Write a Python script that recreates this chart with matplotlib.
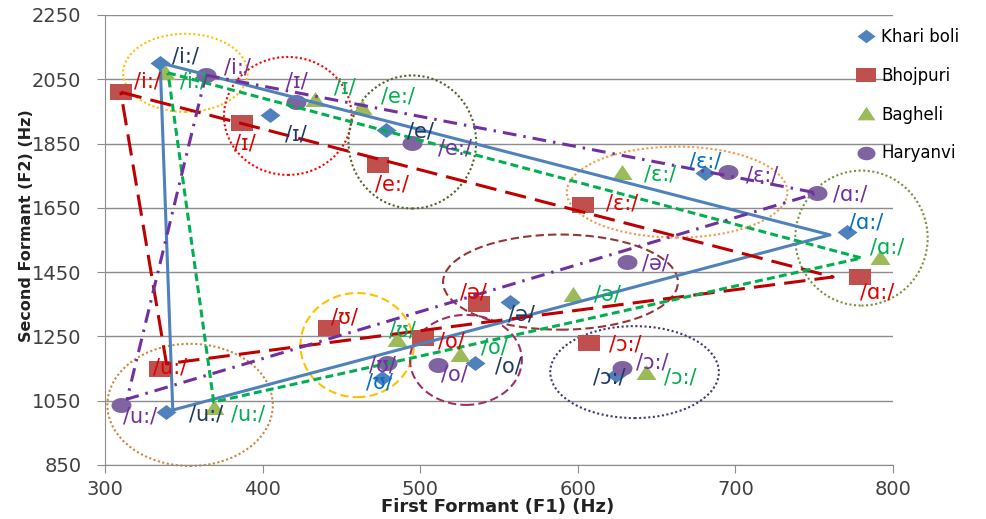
import numpy as np
import matplotlib
matplotlib.use("Agg")
import matplotlib.pyplot as plt
from matplotlib.patches import Ellipse

# ---- data (F1, F2 in Hz) ----
series_names = ["Khari boli", "Bhojpuri", "Bagheli", "Haryanvi"]

kb_f1 = [335, 405, 478, 681, 771, 557, 476, 535, 624, 339]
kb_f2 = [2101, 1939, 1892, 1758, 1575, 1357, 1121, 1167, 1130, 1015]
bh_f1 = [310, 387, 473, 603, 779, 537, 442, 502, 607, 335]
bh_f2 = [2010, 1914, 1783, 1659, 1435, 1351, 1276, 1245, 1230, 1149]
bg_f1 = [338, 433, 463, 628, 792, 597, 485, 525, 643, 369]
bg_f2 = [2070, 1986, 1961, 1758, 1494, 1379, 1239, 1192, 1136, 1027]
hr_f1 = [364, 421, 495, 695, 752, 631, 479, 511, 628, 310]
hr_f2 = [2063, 1979, 1852, 1762, 1696, 1482, 1167, 1161, 1152, 1037]

# vowel triangles (corner vowels)
kb_tri_f1 = [335, 760, 343]
kb_tri_f2 = [2101, 1566, 1021]
bh_tri_f1 = [310, 762, 339]
bh_tri_f2 = [2010, 1435, 1165]
bg_tri_f1 = [340, 780, 369]
bg_tri_f2 = [2070, 1494, 1046]
hr_tri_f1 = [364, 752, 314]
hr_tri_f2 = [2063, 1696, 1055]

kb_labels = ["/i:/", "/ɪ/", "/e/", "/ɛ:/", "/ɑ:/", "/ə/", "/ʊ/", "/o/", "/ɔ:/", "/u:/"]
bh_labels = ["/i:/", "/ɪ/", "/e:/", "/ɛ:/", "/ɑ:/", "/ə/", "/ʊ/", "/o/", "/ɔ:/", "/u:/"]
bg_labels = bh_labels
hr_labels = bh_labels

# where the vowel labels sit (data coords)
kb_lab_x = [351, 421, 500, 681, 783, 564, 474, 556, 620, 364]
kb_lab_y = [2122, 1877, 1886, 1793, 1603, 1317, 1108, 1158, 1121, 1006]
bh_lab_x = [327, 389, 482, 628, 790, 534, 452, 520, 630, 341]
bh_lab_y = [2042, 1849, 1724, 1665, 1388, 1388, 1310, 1233, 1226, 1152]
bg_lab_x = [356, 452, 486, 652, 796, 619, 489, 547, 665, 391]
bg_lab_y = [2042, 2023, 1995, 1755, 1528, 1382, 1270, 1217, 1121, 1006]
hr_lab_x = [384, 422, 522, 717, 773, 649, 476, 522, 647, 322]
hr_lab_y = [2088, 2042, 1836, 1752, 1690, 1478, 1161, 1130, 1170, 1002]

# circled vowel groups: centre, width, height (data units)
grp_x = [351, 416, 495, 663, 780, 589, 460, 529, 636, 354]
grp_y = [2070, 1936, 1855, 1699, 1556, 1419, 1223, 1177, 1139, 1037]
grp_w = [79, 81, 81, 140, 84, 149, 72, 71, 107, 105]
grp_h = [243, 367, 414, 283, 420, 296, 324, 280, 286, 380]
grp_col = ["#FFC000", "#FF0000", "#4F6228", "#F79646", "#77933C",
           "#953735", "#FFC000", "#A0306A", "#403878", "#C8873A"]
grp_ls = [(0, (1, 1.2)), (0, (1, 1.2)), (0, (1, 1.2)), (0, (1, 1.2)), (0, (1, 1.2)),
          (0, (4, 2)), (0, (4, 2)), (0, (4, 2)), (0, (1, 1.2)), (0, (1, 1.2))]

plt.rcParams['font.family'] = ['DejaVu Sans']

fig = plt.figure(figsize=(9.87, 5.19), dpi=100)
ax = fig.add_axes([105/987, 1-465/519, 788/987, 450/519])


def stretched(kind):
    if kind == "D":
        return [(-1, 0), (0, 0.75), (1, 0), (0, -0.75)]
    if kind == "s":
        return [(-1, -0.727), (1, -0.727), (1, 0.727), (-1, 0.727)]
    if kind == "^":
        return [(-1, -0.65), (1, -0.65), (0, 0.85)]
    t = np.linspace(0, 2*np.pi, 41)
    return list(zip(np.cos(t), 0.75*np.sin(t)))


mk_col = ["#4F81BD", "#C0504D", "#9BBB59", "#8064A2"]
mk_kind = ["D", "s", "^", "o"]
mk_size = [14.4, 15.8, 14.4, 14.4]
f1s = [kb_f1, bh_f1, bg_f1, hr_f1]
f2s = [kb_f2, bh_f2, bg_f2, hr_f2]
handles = []
for i in range(4):
    h, = ax.plot(f1s[i], f2s[i], linestyle="none", marker=stretched(mk_kind[i]),
                 markersize=mk_size[i], color=mk_col[i], markeredgewidth=0,
                 zorder=3, label=series_names[i])
    handles.append(h)

# triangles
tri = [(kb_tri_f1, kb_tri_f2, "#4F81BD", "-"),
       (bh_tri_f1, bh_tri_f2, "#C00000", (0, (7, 3))),
       (bg_tri_f1, bg_tri_f2, "#00B050", (0, (2.6, 1.4))),
       (hr_tri_f1, hr_tri_f2, "#7030A0", (0, (4.5, 2.3, 0.8, 2.3)))]
for tx, ty, c, ls in tri:
    ax.plot(tx + tx[:1], ty + ty[:1], color=c, linestyle=ls, linewidth=2.2, zorder=4)

# group ellipses
for i in range(len(grp_x)):
    e = Ellipse((grp_x[i], grp_y[i]), grp_w[i], grp_h[i], fill=False,
                edgecolor=grp_col[i], linestyle=grp_ls[i], linewidth=1.5,
                zorder=2, clip_on=False)
    ax.add_patch(e)

# vowel labels
kb_txt_col = ["#1F3864"] * 10
kb_txt_col[3] = kb_txt_col[4] = kb_txt_col[6] = "#0070C0"
lab_sets = [(kb_labels, kb_lab_x, kb_lab_y, kb_txt_col),
            (bh_labels, bh_lab_x, bh_lab_y, ["#E00000"] * 10),
            (bg_labels, bg_lab_x, bg_lab_y, ["#00B050"] * 10),
            (hr_labels, hr_lab_x, hr_lab_y, ["#7030A0"] * 10)]
for labs, lx, ly, cols in lab_sets:
    for s, x, y, c in zip(labs, lx, ly, cols):
        ax.text(x, y, s, color=c, fontsize=15, ha="center", va="center", zorder=5)

ax.set_xlim(300, 800)
ax.set_ylim(850, 2250)
ax.set_xticks(range(300, 801, 100))
ax.set_yticks(range(850, 2251, 200))
ax.grid(axis="y", color="#8C8C8C", linewidth=1)
ax.set_axisbelow(True)
for side in ["top", "right"]:
    ax.spines[side].set_visible(False)
for side in ["left", "bottom"]:
    ax.spines[side].set_color("#8C8C8C")
ax.tick_params(axis="both", direction="out", length=6, color="#8C8C8C",
               labelsize=14, labelcolor="#404040")
ax.tick_params(axis="y", pad=11)
ax.tick_params(axis="x", pad=5)

fig.text(498/987, 1-507/519, "First Formant (F1) (Hz)", fontsize=13,
         fontweight="bold", ha="center", va="center", color="#222222")
fig.text(27/987, 1-226/519, "Second Formant (F2) (Hz)", fontsize=11.5,
         fontweight="bold", ha="center", va="center", rotation=90, color="#222222")

ax.legend(handles=handles, loc="upper left", bbox_to_anchor=(858/987, 1-28/519),
          bbox_transform=fig.transFigure, frameon=False, fontsize=12,
          handlelength=1.0, handletextpad=0.4, labelspacing=1.25, borderpad=0,
          borderaxespad=0, markerscale=0.9)

fig.savefig("out.png", dpi=100)
